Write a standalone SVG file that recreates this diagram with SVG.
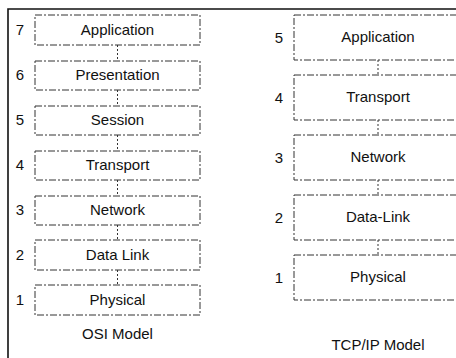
<svg xmlns="http://www.w3.org/2000/svg" width="456" height="358" viewBox="0 0 456 358">
<style>
.box{fill:#fff;stroke:#333;stroke-width:1;stroke-dasharray:7 2 2 2}
.t{font-family:"Liberation Sans",Arial,sans-serif;font-size:15px;fill:#111;text-anchor:middle}
.n{font-family:"Liberation Sans",Arial,sans-serif;font-size:15px;fill:#111;text-anchor:middle}
.c{stroke:#333;stroke-width:1;stroke-dasharray:2 2;fill:none}
.frame{stroke:#111;stroke-width:1.6;fill:none}
</style>
<rect width="456" height="358" fill="#fff"/>
<path class="frame" d="M8,358 V9 H456"/>
<g id="connectors">
<line class="c" x1="117.5" y1="45" x2="117.5" y2="61"/>
<line class="c" x1="117.5" y1="90" x2="117.5" y2="106"/>
<line class="c" x1="117.5" y1="135" x2="117.5" y2="151"/>
<line class="c" x1="117.5" y1="180" x2="117.5" y2="196"/>
<line class="c" x1="117.5" y1="225" x2="117.5" y2="240"/>
<line class="c" x1="117.5" y1="270" x2="117.5" y2="285"/>
<line class="c" x1="378" y1="60" x2="378" y2="75"/>
<line class="c" x1="378" y1="120" x2="378" y2="135"/>
<line class="c" x1="378" y1="180" x2="378" y2="195"/>
<line class="c" x1="378" y1="240" x2="378" y2="255"/>
</g>
<g id="osi7"><rect class="box" x="35" y="15" width="165" height="30"/><text class="n" x="20" y="35">7</text><text class="t" x="117.5" y="35">Application</text></g>
<g id="osi6"><rect class="box" x="35" y="61" width="165" height="29"/><text class="n" x="20" y="80">6</text><text class="t" x="117.5" y="80">Presentation</text></g>
<g id="osi5"><rect class="box" x="35" y="106" width="165" height="29"/><text class="n" x="20" y="125">5</text><text class="t" x="117.5" y="125">Session</text></g>
<g id="osi4"><rect class="box" x="35" y="151" width="165" height="29"/><text class="n" x="20" y="170">4</text><text class="t" x="117.5" y="170">Transport</text></g>
<g id="osi3"><rect class="box" x="35" y="196" width="165" height="29"/><text class="n" x="20" y="215">3</text><text class="t" x="117.5" y="215">Network</text></g>
<g id="osi2"><rect class="box" x="35" y="240" width="165" height="30"/><text class="n" x="20" y="260">2</text><text class="t" x="117.5" y="260">Data Link</text></g>
<g id="osi1"><rect class="box" x="35" y="285" width="165" height="30"/><text class="n" x="20" y="305">1</text><text class="t" x="117.5" y="305">Physical</text></g>
<text class="t" x="117.5" y="339">OSI Model</text>
<g id="tcp5"><rect class="box" x="294" y="15" width="168" height="45"/><text class="n" x="279" y="43">5</text><text class="t" x="378" y="42">Application</text></g>
<g id="tcp4"><rect class="box" x="294" y="75" width="168" height="45"/><text class="n" x="279" y="103">4</text><text class="t" x="378" y="102">Transport</text></g>
<g id="tcp3"><rect class="box" x="294" y="135" width="168" height="45"/><text class="n" x="279" y="163">3</text><text class="t" x="378" y="162">Network</text></g>
<g id="tcp2"><rect class="box" x="294" y="195" width="168" height="45"/><text class="n" x="279" y="223">2</text><text class="t" x="378" y="222">Data-Link</text></g>
<g id="tcp1"><rect class="box" x="294" y="255" width="168" height="45"/><text class="n" x="279" y="283">1</text><text class="t" x="378" y="282">Physical</text></g>
<text class="t" x="378" y="350">TCP/IP Model</text>
</svg>
